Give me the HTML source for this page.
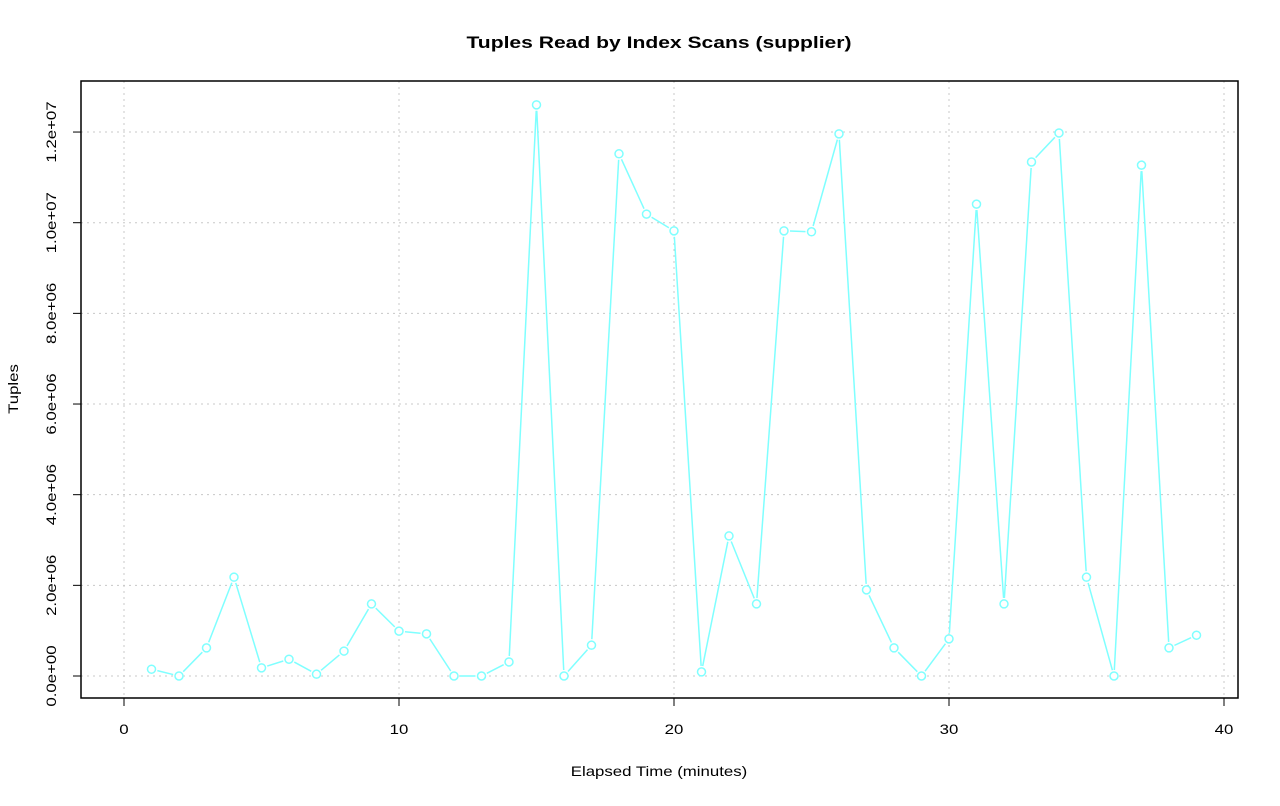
<!DOCTYPE html>
<html><head><meta charset="utf-8"><style>
body{margin:0;background:#fff;font-family:"Liberation Sans",sans-serif}
</style></head><body>
<svg id="chart" width="1280" height="801" xmlns="http://www.w3.org/2000/svg" font-family="Liberation Sans, sans-serif">
<rect width="1280" height="801" fill="#fff"/>
<text class="st" data-k="1.24" x="659" y="48" text-anchor="middle" font-weight="bold" font-size="17">Tuples Read by Index Scans (supplier)</text>
<text class="st" data-k="1.2" x="659" y="776" text-anchor="middle" font-size="14">Elapsed Time (minutes)</text>
<text class="st" data-k="1.2" transform="translate(18,389) rotate(-90)" text-anchor="middle" font-size="14">Tuples</text>
<g id="grid"></g><g id="axes"></g><g id="series"></g>
<rect x="81" y="81" width="1157" height="617" fill="none" stroke="#000" stroke-width="1.5"/>
</svg>
<script>
const xs=[1,2,3,4,5,6,7,8,9,10,11,12,13,14,15,16,17,18,19,20,21,22,23,24,25,26,27,28,29,30,31,32,33,34,35,36,37,38,39];
const vals=[0.15,0,0.62,2.18,0.18,0.37,0.04,0.55,1.59,0.99,0.93,0,0,0.31,12.6,0,0.68,11.52,10.19,9.82,0.09,3.09,1.59,9.82,9.8,11.96,1.9,0.62,0,0.82,10.41,1.59,11.34,11.98,2.18,0,11.27,0.62,0.9].map(v=>v*1e6);
const xTicks=[0,10,20,30,40];
const yTicks=[0,2e6,4e6,6e6,8e6,1e7,1.2e7];
const yLabels=["0.0e+00","2.0e+06","4.0e+06","6.0e+06","8.0e+06","1.0e+07","1.2e+07"];
const NS="http://www.w3.org/2000/svg";
const X=v=>124+v*27.5, Y=v=>676-v/1e6*45.33;
function mk(t,a,p){const e=document.createElementNS(NS,t);for(const k in a)e.setAttribute(k,a[k]);p.appendChild(e);return e;}
const g=document.getElementById('grid'),ax=document.getElementById('axes'),s=document.getElementById('series');
xTicks.forEach(t=>{
 const l=mk('line',{x1:X(t),x2:X(t),y1:81,y2:698,stroke:'#c8c8c8','stroke-dasharray':'2,4'},g);
 
 const k=mk('line',{x1:X(t),x2:X(t),y1:698,y2:706,stroke:'#000'},ax);
 
 const tx=mk('text',{x:X(t),y:734,'text-anchor':'middle','font-size':14,'class':'st','data-k':1.2},ax);tx.textContent=t;
 
});
yTicks.forEach((t,i)=>{
 const l=mk('line',{x1:81,x2:1238,y1:Y(t),y2:Y(t),stroke:'#c8c8c8','stroke-dasharray':'2,4'},g);
 
 const k=mk('line',{x1:73,x2:81,y1:Y(t),y2:Y(t),stroke:'#000'},ax);
 
 const tx=mk('text',{transform:`translate(56,${Y(t)}) rotate(-90)`,'text-anchor':'middle','font-size':14,'class':'st','data-k':1.2},ax);tx.textContent=yLabels[i];
 
});
const r=4,gap=6;
for(let i=0;i<xs.length-1;i++){
 const x1=X(xs[i]),y1=Y(vals[i]),x2=X(xs[i+1]),y2=Y(vals[i+1]);
 const dx=x2-x1,dy=y2-y1,d=Math.hypot(dx,dy);if(d<=2*gap)continue;
 const ux=dx/d,uy=dy/d;
 const l=mk('line',{x1:x1+ux*gap,y1:y1+uy*gap,x2:x2-ux*gap,y2:y2-uy*gap,stroke:'#7fffff','stroke-width':1.5},s);
 
}
xs.forEach((x,i)=>{
 const c=mk('circle',{cx:X(x),cy:Y(vals[i]),r:r,fill:'#fff',stroke:'#7fffff','stroke-width':1.5},s);
 
});
document.querySelectorAll('text.st').forEach(t=>{
 const k=parseFloat(t.getAttribute('data-k'));
 const w=t.getComputedTextLength();
 t.setAttribute('textLength',(w*k).toFixed(1));
 t.setAttribute('lengthAdjust','spacingAndGlyphs');
});
</script>
</body></html>
